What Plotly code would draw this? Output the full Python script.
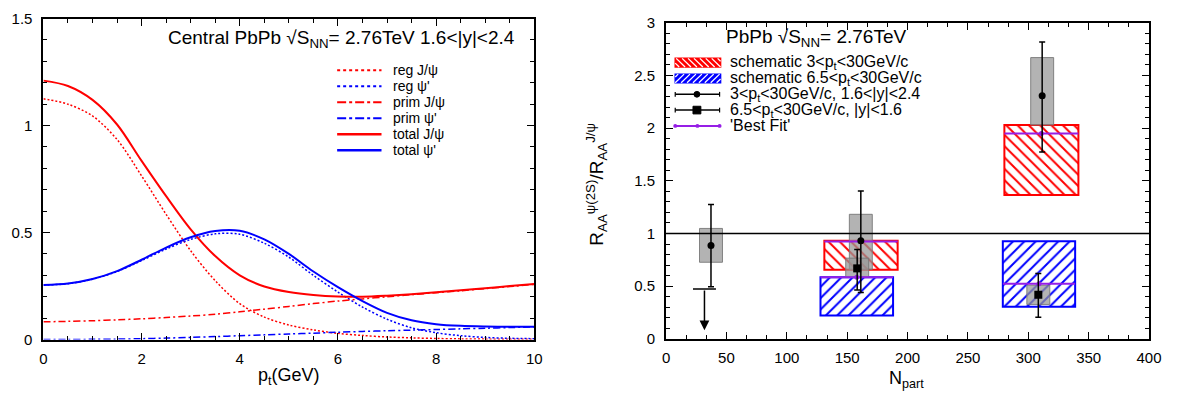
import plotly.graph_objects as go

W, H = 1185, 406
FONT = "Liberation Sans, Arial, sans-serif"
RED = "rgb(255,0,0)"
BLUE = "rgb(0,0,255)"
PURPLE = "rgb(150,30,230)"

# ---------------- left panel data (p_t spectra) ----------------
pt = [0.0, 0.5, 1.0, 1.5, 2.0, 2.5, 3.0, 3.5, 4.0, 4.5, 5.0,
      5.5, 6.0, 6.5, 7.0, 7.5, 8.0, 8.5, 9.0, 9.5, 10.0]
reg_jpsi = [1.125, 1.10, 1.045, 0.935, 0.765, 0.585, 0.415, 0.275, 0.168, 0.105, 0.068,
            0.045, 0.029, 0.019, 0.012, 0.008, 0.005, 0.003, 0.002, 0.001, 0.001]
reg_psi2s = [0.255, 0.261, 0.282, 0.318, 0.369, 0.423, 0.468, 0.494, 0.492, 0.450, 0.385,
             0.300, 0.222, 0.152, 0.095, 0.055, 0.032, 0.018, 0.010, 0.006, 0.004]
prim_jpsi = [0.083, 0.085, 0.088, 0.092, 0.097, 0.103, 0.110, 0.118, 0.130, 0.142, 0.155,
             0.168, 0.180, 0.190, 0.200, 0.210, 0.219, 0.228, 0.238, 0.248, 0.258]
prim_psi2s = [0.0, 0.0005, 0.001, 0.002, 0.004, 0.007, 0.010, 0.014, 0.018, 0.022, 0.026,
              0.030, 0.034, 0.038, 0.041, 0.044, 0.047, 0.050, 0.053, 0.056, 0.059]
total_jpsi = [1.21, 1.185, 1.12, 1.005, 0.835, 0.67, 0.515, 0.39, 0.30, 0.248, 0.222,
              0.208, 0.201, 0.200, 0.205, 0.212, 0.221, 0.230, 0.240, 0.250, 0.260]
total_psi2s = [0.255, 0.262, 0.283, 0.320, 0.373, 0.430, 0.478, 0.507, 0.508, 0.468, 0.400,
               0.318, 0.245, 0.180, 0.125, 0.090, 0.072, 0.064, 0.061, 0.060, 0.060]
curve_labels = ["reg J/ψ", "reg ψ'", "prim J/ψ", "prim ψ'", "total J/ψ", "total ψ'"]

# ---------------- right panel data (double ratio vs Npart) ----------------
npart_fwd = [37.2, 161.3, 311.5]          # 3<pt<30, 1.6<|y|<2.4 (circles)
ratio_fwd = [0.885, 0.93, 2.306]
stat_up_fwd = [0.39, 0.473, 0.512]
stat_dn_fwd = [0.391, 0.491, 0.533]
syst_lo_fwd = [0.727, 0.66, 2.03]
syst_hi_fwd = [1.048, 1.182, 2.669]

npart_mid = [158.3, 308.3]                # 6.5<pt<30, |y|<1.6 (squares)
ratio_mid = [0.669, 0.418]
stat_up_mid = [0.179, 0.203]
stat_dn_mid = [0.205, 0.212]
syst_lo_mid = [0.585, 0.327]
syst_hi_mid = [0.766, 0.509]

npart_limit = [31.8]                      # upper limit (squares)
ratio_limit = [0.473]

sch_red_npart_lo = [131.1, 280.2]         # schematic 3<pt<30
sch_red_npart_hi = [191.8, 341.5]
sch_red_lo = [0.655, 1.366]
sch_red_hi = [0.93, 2.03]
sch_blue_npart_lo = [127.9, 278.9]        # schematic 6.5<pt<30
sch_blue_npart_hi = [188.0, 338.8]
sch_blue_lo = [0.221, 0.306]
sch_blue_hi = [0.585, 0.927]

fit_npart_lo = [131.1, 127.9, 280.2, 278.9]   # 'Best Fit'
fit_npart_hi = [191.8, 188.0, 341.5, 338.8]
fit_value = [0.924, 0.585, 1.948, 0.524]

legend_right = ["schematic 3&lt;p<sub>t</sub>&lt;30GeV/c",
                "schematic 6.5&lt;p<sub>t</sub>&lt;30GeV/c",
                "3&lt;p<sub>t</sub>&lt;30GeV/c, 1.6&lt;|y|&lt;2.4",
                "6.5&lt;p<sub>t</sub>&lt;30GeV/c, |y|&lt;1.6",
                "'Best Fit'"]

SYST_W = 19.0

def X(px):
    return px / W

def Y(py):
    return 1 - py / H

fig = go.Figure()

# ---------- left curves ----------
curves = [
    (reg_jpsi, RED, "2px,2px", 1.5),
    (reg_psi2s, BLUE, "2px,2px", 1.5),
    (prim_jpsi, RED, "7px,3px,2px,3px", 1.5),
    (prim_psi2s, BLUE, "7px,3px,2px,3px", 1.5),
    (total_jpsi, RED, "solid", 2),
    (total_psi2s, BLUE, "solid", 2),
]
for (vals, col, dash, wid), lab in zip(curves, curve_labels):
    fig.add_trace(go.Scatter(x=pt, y=vals, mode="lines", name=lab,
                             line=dict(color=col, dash=dash, width=wid, shape="spline", smoothing=0.9),
                             xaxis="x", yaxis="y", showlegend=False))

# ---------- right: schematic hatched boxes ----------
def hatched_bars(lo_n, hi_n, lo, hi, col, shape, name):
    fig.add_trace(go.Bar(
        x=[(a + b) / 2 for a, b in zip(lo_n, hi_n)],
        width=[b - a for a, b in zip(lo_n, hi_n)],
        base=lo, y=[b - a for a, b in zip(lo, hi)],
        name=name, xaxis="x2", yaxis="y2", showlegend=False,
        marker=dict(color="white", line=dict(color=col, width=2),
                    pattern=dict(shape=shape, fgcolor=col, bgcolor="white",
                                 size=8, solidity=0.25, fillmode="replace"))))

hatched_bars(sch_red_npart_lo, sch_red_npart_hi, sch_red_lo, sch_red_hi, RED, "\\", legend_right[0])
hatched_bars(sch_blue_npart_lo, sch_blue_npart_hi, sch_blue_lo, sch_blue_hi, BLUE, "/", legend_right[1])

# ---------- systematic gray boxes ----------
for nn, lo, hi in [(npart_fwd, syst_lo_fwd, syst_hi_fwd), (npart_mid, syst_lo_mid, syst_hi_mid)]:
    fig.add_trace(go.Bar(x=nn, width=[SYST_W] * len(nn), base=lo,
                         y=[b - a for a, b in zip(lo, hi)],
                         xaxis="x2", yaxis="y2", showlegend=False,
                         marker=dict(color="rgba(150,150,150,0.72)",
                                     line=dict(color="rgba(120,120,120,0.9)", width=1))))

# ---------- best fit ----------
fx, fy = [], []
for a, b, v in zip(fit_npart_lo, fit_npart_hi, fit_value):
    fx += [a, b, None]
    fy += [v, v, None]
fig.add_trace(go.Scatter(x=fx, y=fy, mode="lines", line=dict(color=PURPLE, width=2),
                         xaxis="x2", yaxis="y2", showlegend=False, name=legend_right[4]))
fig.add_trace(go.Scatter(x=[(a + b) / 2 for a, b in zip(fit_npart_lo, fit_npart_hi)], y=fit_value,
                         mode="markers", marker=dict(color=PURPLE, size=5),
                         xaxis="x2", yaxis="y2", showlegend=False))

# ---------- data points ----------
fig.add_trace(go.Scatter(x=npart_fwd, y=ratio_fwd, mode="markers", name=legend_right[2],
                         marker=dict(symbol="circle", size=7, color="black"),
                         error_y=dict(type="data", symmetric=False, array=stat_up_fwd,
                                      arrayminus=stat_dn_fwd, color="black", thickness=1.5, width=3),
                         xaxis="x2", yaxis="y2", showlegend=False))
fig.add_trace(go.Scatter(x=npart_mid, y=ratio_mid, mode="markers", name=legend_right[3],
                         marker=dict(symbol="square", size=8, color="black"),
                         error_y=dict(type="data", symmetric=False, array=stat_up_mid,
                                      arrayminus=stat_dn_mid, color="black", thickness=1.5, width=3),
                         xaxis="x2", yaxis="y2", showlegend=False))
# upper limit cap
for n, v in zip(npart_limit, ratio_limit):
    fig.add_trace(go.Scatter(x=[n - SYST_W / 2, n + SYST_W / 2], y=[v, v], mode="lines",
                             line=dict(color="black", width=1.5),
                             xaxis="x2", yaxis="y2", showlegend=False))

annotations = []
for n, v in zip(npart_limit, ratio_limit):
    annotations.append(dict(x=n, y=v - 0.39, xref="x2", yref="y2", ax=n, ay=v,
                            axref="x2", ayref="y2", text="", showarrow=True,
                            arrowhead=2, arrowsize=1.3, arrowwidth=1.5, arrowcolor="black"))

shapes = [dict(type="line", xref="x2 domain", yref="y2", x0=0, x1=1, y0=1, y1=1,
               line=dict(color="black", width=1.5), layer="above")]

# ---------- left legend (manual) ----------
left_rows = [64, 80.7, 97.3, 114, 130.7, 147.3]
dash_map = {"2px,2px": "dot", "7px,3px,2px,3px": "dashdot", "solid": "solid"}
for (vals, col, dash, wid), lab, yy in zip(curves, curve_labels, left_rows):
    shapes.append(dict(type="line", xref="paper", yref="paper", x0=X(338), x1=X(383),
                       y0=Y(yy), y1=Y(yy), line=dict(color=col, width=wid + 0.5, dash=dash_map[dash])))
    annotations.append(dict(x=X(393), y=Y(yy), xref="paper", yref="paper", text=lab,
                            xanchor="left", yanchor="middle", showarrow=False,
                            font=dict(family=FONT, size=14, color="black")))

# ---------- right legend (manual) ----------
right_rows = [56, 72.5, 89, 105.5, 122]

def hatch(x0, y0, x1, y1, kind, sp, col, wd):
    out = []
    if kind == "back":
        c = (y0 - x1) + sp / 2
        while c < y1 - x0:
            xs, xe = max(x0, y0 - c), min(x1, y1 - c)
            if xe > xs:
                out.append(dict(type="line", xref="paper", yref="paper", x0=X(xs), y0=Y(xs + c),
                                x1=X(xe), y1=Y(xe + c), line=dict(color=col, width=wd)))
            c += sp
    else:
        c = (x0 + y0) + sp / 2
        while c < x1 + y1:
            xs, xe = max(x0, c - y1), min(x1, c - y0)
            if xe > xs:
                out.append(dict(type="line", xref="paper", yref="paper", x0=X(xs), y0=Y(c - xs),
                                x1=X(xe), y1=Y(c - xe), line=dict(color=col, width=wd)))
            c += sp
    return out

for yy, col, kind in [(right_rows[0], RED, "back"), (right_rows[1], BLUE, "fwd")]:
    shapes.append(dict(type="rect", xref="paper", yref="paper", x0=X(681), x1=X(727),
                       y0=Y(yy - 4.5), y1=Y(yy + 4.5), fillcolor=col, line=dict(color=col, width=1.5)))
    shapes += hatch(681, yy - 4.5, 727, yy + 4.5, kind, 6, "white", 1.3)

for yy, sym, col, sz in [(right_rows[2], "circle", "black", 7), (right_rows[3], "square", "black", 8)]:
    shapes.append(dict(type="line", xref="paper", yref="paper", x0=X(681), x1=X(726),
                       y0=Y(yy), y1=Y(yy), line=dict(color="black", width=1.5)))
    for xe in (681, 726):
        shapes.append(dict(type="line", xref="paper", yref="paper", x0=X(xe), x1=X(xe),
                           y0=Y(yy - 2.5), y1=Y(yy + 2.5), line=dict(color="black", width=1.2)))
    if sym == "circle":
        shapes.append(dict(type="circle", xref="paper", yref="paper", x0=X(700), x1=X(706),
                           y0=Y(yy + 3), y1=Y(yy - 3), fillcolor="black", line=dict(color="black", width=1)))
    else:
        shapes.append(dict(type="rect", xref="paper", yref="paper", x0=X(699), x1=X(707),
                           y0=Y(yy + 4), y1=Y(yy - 4), fillcolor="black", line=dict(color="black", width=1)))

yy = right_rows[4]
shapes.append(dict(type="line", xref="paper", yref="paper", x0=X(681), x1=X(726),
                   y0=Y(yy), y1=Y(yy), line=dict(color=PURPLE, width=2)))
for xe in (681, 703.5, 726):
    shapes.append(dict(type="circle", xref="paper", yref="paper", x0=X(xe - 2), x1=X(xe + 2),
                       y0=Y(yy + 2), y1=Y(yy - 2), fillcolor=PURPLE, line=dict(color=PURPLE, width=0)))

for lab, yy in zip(legend_right, right_rows):
    annotations.append(dict(x=X(735), y=Y(yy), xref="paper", yref="paper", text=lab,
                            xanchor="left", yanchor="middle", showarrow=False,
                            font=dict(family=FONT, size=16, color="black")))

# ---------- titles ----------
annotations.append(dict(x=X(164), y=Y(31), xref="paper", yref="paper",
                        text="Central PbPb √S<sub>NN</sub>= 2.76TeV 1.6&lt;|y|&lt;2.4",
                        xanchor="left", yanchor="middle", showarrow=False,
                        font=dict(family=FONT, size=19, color="black")))
annotations.append(dict(x=X(730), y=Y(30), xref="paper", yref="paper",
                        text="PbPb √S<sub>NN</sub>= 2.76TeV",
                        xanchor="left", yanchor="middle", showarrow=False,
                        font=dict(family=FONT, size=19, color="black")))
annotations.append(dict(x=X(289), y=Y(384), xref="paper", yref="paper",
                        text="p<sub>t</sub>(GeV)", xanchor="center", yanchor="middle",
                        showarrow=False, font=dict(family=FONT, size=18, color="black")))
annotations.append(dict(x=X(916), y=Y(387), xref="paper", yref="paper",
                        text="N<sub>part</sub>", xanchor="center", yanchor="middle",
                        showarrow=False, font=dict(family=FONT, size=18, color="black")))
annotations.append(dict(x=X(601), y=Y(183), xref="paper", yref="paper",
                        text="R<sub>AA</sub><sup>ψ(2S)</sup>/R<sub>AA</sub><sup>J/ψ</sup>",
                        textangle=-90, xanchor="center", yanchor="middle",
                        showarrow=False, font=dict(family=FONT, size=19, color="black")))

def axis_style(rng, dtick, minor, dom, anchor):
    return dict(domain=dom, range=rng, anchor=anchor, dtick=dtick, tick0=0,
                showline=True, linecolor="black", linewidth=2, mirror="ticks",
                ticks="inside", ticklen=7, tickwidth=1.3, tickcolor="black",
                minor=dict(ticks="inside", ticklen=4, dtick=minor, tick0=0, tickcolor="black", tickwidth=1),
                showgrid=False, zeroline=False, fixedrange=True,
                tickfont=dict(family=FONT, size=15, color="black"))

xa = axis_style([0, 10], 2, 0.5, [X(40), X(538)], "y")
ya = axis_style([0, 1.5], 0.5, 0.1, [Y(345), Y(10)], "x")
xa2 = axis_style([0, 400], 50, 50 / 3, [X(671.7), X(1161.7)], "y2")
ya2 = axis_style([0, 3], 0.5, 0.1, [Y(344.3), Y(14.3)], "x2")
xa["ticklabelstandoff"] = 4
xa2["ticklabelstandoff"] = 4
ya["ticklabelstandoff"] = 6
ya2["ticklabelstandoff"] = 6

fig.update_layout(width=W, height=H, autosize=False, margin=dict(l=0, r=0, t=0, b=0),
                  paper_bgcolor="white", plot_bgcolor="white", barmode="overlay",
                  showlegend=False, xaxis=xa, yaxis=ya, xaxis2=xa2, yaxis2=ya2,
                  shapes=shapes, annotations=annotations,
                  font=dict(family=FONT, color="black"))

post = ("document.documentElement.style.margin='0';document.body.style.margin='0';"
        "document.body.style.padding='0';document.body.style.overflow='hidden';"
        "var gd=document.getElementById('{plot_id}');"
        "Plotly.relayout(gd,{width:%d,height:%d,autosize:false});" % (W, H))

fig.write_html("out.html", config={"responsive": False, "displayModeBar": False},
               post_script=post)
